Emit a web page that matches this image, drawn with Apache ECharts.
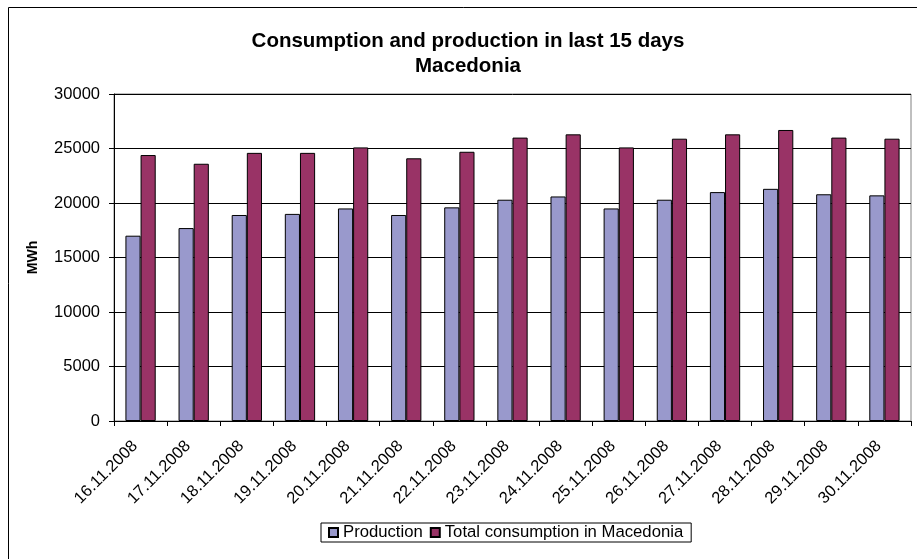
<!DOCTYPE html>
<html>
<head>
<meta charset="utf-8">
<script src="https://cdn.jsdelivr.net/npm/echarts@6/dist/echarts.min.js"></script>
<style>
  html, body { margin: 0; padding: 0; background: #fff; }
  #chart { width: 917px; height: 559px; }
</style>
</head>
<body>
<div id="chart"></div>
<script>
// Daily energy balance for Macedonia, 16.11.2008 – 30.11.2008 (MWh)
const days = [
  '16.11.2008', '17.11.2008', '18.11.2008', '19.11.2008', '20.11.2008',
  '21.11.2008', '22.11.2008', '23.11.2008', '24.11.2008', '25.11.2008',
  '26.11.2008', '27.11.2008', '28.11.2008', '29.11.2008', '30.11.2008'
];
const production = [
  17000, 17700, 18900, 19000, 19500, 18900, 19600, 20300,
  20600, 19500, 20300, 21000, 21300, 20800, 20700
];
const consumption = [
  24400, 23600, 24600, 24600, 25100, 24100, 24700, 26000,
  26300, 25100, 25900, 26300, 26700, 26000, 25900
];
const yTicks = { min: 0, max: 30000, step: 5000 };

const font = 'Liberation Sans, Arial, sans-serif';
const chart = echarts.init(document.getElementById('chart'), null, { renderer: 'canvas' });

chart.setOption({
  animation: false,
  backgroundColor: '#fff',
  textStyle: { fontFamily: font, color: '#000' },
  title: {
    text: 'Consumption and production in last 15 days\nMacedonia',
    left: 463,
    top: 24,
    textAlign: 'center',
    textStyle: { fontFamily: font, fontSize: 20.5, fontWeight: 'bold', color: '#000', lineHeight: 25 }
  },
  graphic: [{
    type: 'rect',
    silent: true,
    shape: { x: 8.5, y: 7.5, width: 1000, height: 1000 },
    style: { fill: 'none', stroke: '#000', lineWidth: 1 }
  }],
  legend: {
    left: 321,
    top: 523,
    itemWidth: 9,
    itemHeight: 9,
    itemGap: 7,
    padding: [1, 8, 1, 7],
    borderColor: '#000',
    borderWidth: 1,
    icon: 'rect',
    textStyle: { fontFamily: font, fontSize: 16.7, color: '#000' },
    data: ['Production', 'Total consumption in Macedonia']
  },
  grid: {
    left: 114,
    right: 6,
    top: 94,
    bottom: 138,
    show: true,
    borderColor: '#808080',
    borderWidth: 1,
    backgroundColor: '#fff'
  },
  xAxis: {
    type: 'category',
    data: days,
    boundaryGap: true,
    axisLine: { lineStyle: { color: '#000', width: 1 } },
    axisTick: { show: true, alignWithLabel: false, length: 5, lineStyle: { color: '#000' } },
    axisLabel: {
      rotate: 45, interval: 0, fontSize: 16.5, color: '#000', fontFamily: font,
      margin: 17, padding: [0, 8, 0, 0]
    }
  },
  yAxis: {
    type: 'value',
    min: yTicks.min,
    max: yTicks.max,
    interval: yTicks.step,
    name: 'MWh',
    nameLocation: 'middle',
    nameGap: 74,
    nameRotate: 90,
    nameTextStyle: { fontFamily: font, fontSize: 14, fontWeight: 'bold', color: '#000' },
    axisLine: { show: true, lineStyle: { color: '#000', width: 1 } },
    axisTick: { show: true, inside: false, length: 5, lineStyle: { color: '#000' } },
    axisLabel: {
      fontSize: 16.5, color: '#000', fontFamily: font, margin: 14,
      formatter: v => String(v)
    },
    splitLine: { show: true, lineStyle: { color: '#000', width: 1 } }
  },
  series: [
    {
      name: 'Production',
      type: 'bar',
      data: production,
      barGap: '0%',
      barCategoryGap: '43%',
      itemStyle: { color: '#9999CC', borderColor: '#000', borderWidth: 1 }
    },
    {
      name: 'Total consumption in Macedonia',
      type: 'bar',
      data: consumption,
      barGap: '0%',
      barCategoryGap: '43%',
      itemStyle: { color: '#993366', borderColor: '#000', borderWidth: 1 }
    }
  ]
});
</script>
</body>
</html>
